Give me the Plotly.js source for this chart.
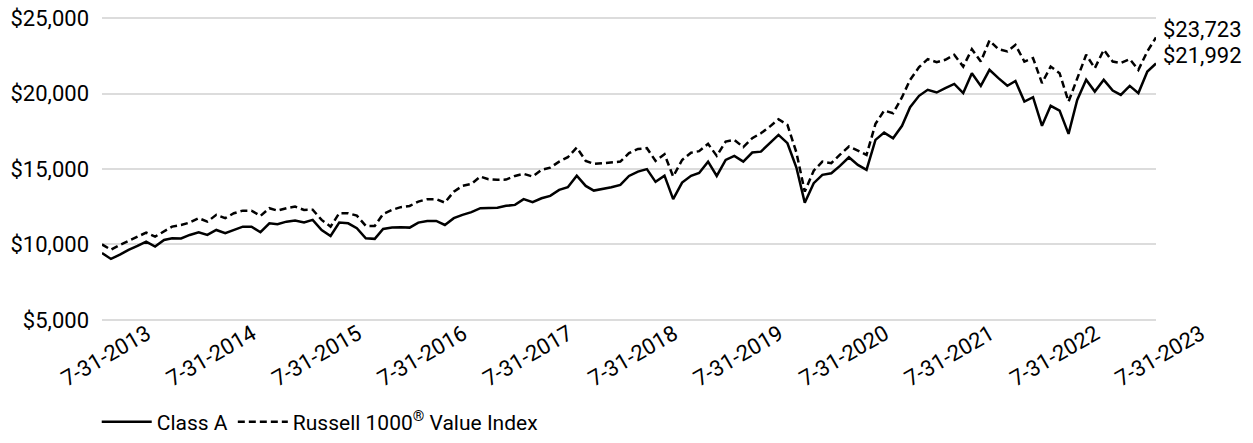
<!DOCTYPE html>
<html>
<head>
<meta charset="utf-8">
<script src="https://cdn.plot.ly/plotly-3.0.1.min.js"></script>
<style>
  html, body { margin: 0; padding: 0; background: #fff; }
  #chart { width: 1253px; height: 443px; }
</style>
</head>
<body>
<div id="chart"></div>
<script>
// Month-end observation dates (monthly, 7-31-2013 to 7-31-2023)
const dates = [
  "2013-07","2013-08","2013-09","2013-10","2013-11","2013-12",
  "2014-01","2014-02","2014-03","2014-04","2014-05","2014-06","2014-07","2014-08","2014-09","2014-10","2014-11","2014-12",
  "2015-01","2015-02","2015-03","2015-04","2015-05","2015-06","2015-07","2015-08","2015-09","2015-10","2015-11","2015-12",
  "2016-01","2016-02","2016-03","2016-04","2016-05","2016-06","2016-07","2016-08","2016-09","2016-10","2016-11","2016-12",
  "2017-01","2017-02","2017-03","2017-04","2017-05","2017-06","2017-07","2017-08","2017-09","2017-10","2017-11","2017-12",
  "2018-01","2018-02","2018-03","2018-04","2018-05","2018-06","2018-07","2018-08","2018-09","2018-10","2018-11","2018-12",
  "2019-01","2019-02","2019-03","2019-04","2019-05","2019-06","2019-07","2019-08","2019-09","2019-10","2019-11","2019-12",
  "2020-01","2020-02","2020-03","2020-04","2020-05","2020-06","2020-07","2020-08","2020-09","2020-10","2020-11","2020-12",
  "2021-01","2021-02","2021-03","2021-04","2021-05","2021-06","2021-07","2021-08","2021-09","2021-10","2021-11","2021-12",
  "2022-01","2022-02","2022-03","2022-04","2022-05","2022-06","2022-07","2022-08","2022-09","2022-10","2022-11","2022-12",
  "2023-01","2023-02","2023-03","2023-04","2023-05","2023-06","2023-07"
];

// Class A (growth of $10,000, after sales charge)
const classA = [
  9425, 9040, 9320, 9640, 9900, 10190, 9860, 10300, 10410, 10400, 10630, 10810,
  10630, 10960, 10740, 10960, 11180, 11180, 10810, 11400, 11340, 11510, 11580, 11450,
  11625, 10960, 10560, 11450, 11400, 11075, 10410, 10370, 11030, 11115, 11140, 11115,
  11450, 11560, 11560, 11290, 11740, 11960, 12140, 12400, 12400, 12440, 12560, 12620,
  13000, 12800, 13060, 13220, 13615, 13790, 14560, 13880, 13570, 13680, 13790, 13950,
  14540, 14830, 14990, 14150, 14560, 13000, 14100, 14550, 14740, 15490, 14540, 15600,
  15870, 15490, 16090, 16150, 16710, 17260, 16710, 15100, 12770, 14060, 14610, 14720,
  15210, 15780, 15270, 14940, 16930, 17410, 17040, 17860, 19100, 19850, 20250, 20070,
  20360, 20640, 20030, 21350, 20510, 21570, 21020, 20520, 20830, 19470, 19760, 17860,
  19190, 18870, 17330, 19580, 20910, 20130, 20910, 20200, 19910, 20510, 20030, 21460,
  21992
];

// Russell 1000 Value Index
const russell = [
  10000, 9650, 9970, 10230, 10500, 10780, 10520, 10850, 11180, 11290, 11450, 11740,
  11510, 11960, 11740, 12070, 12240, 12240, 11890, 12400, 12240, 12400, 12510, 12290,
  12300, 11625, 11180, 12070, 12070, 11910, 11230, 11230, 12020, 12290, 12470, 12550,
  12840, 13000, 13000, 12770, 13500, 13880, 14010, 14500, 14320, 14280, 14300, 14540,
  14680, 14500, 14940, 15090, 15490, 15780, 16420, 15540, 15340, 15385, 15425, 15490,
  16050, 16330, 16380, 15540, 15980, 14500, 15600, 16080, 16180, 16665, 15870, 16820,
  16930, 16450, 17040, 17370, 17810, 18300, 17925, 16100, 13500, 14890, 15490, 15385,
  15950, 16490, 16220, 15935, 17990, 18870, 18700, 19760, 20910, 21750, 22280, 22080,
  22235, 22570, 21790, 22940, 22120, 23515, 22940, 22790, 23230, 22120, 22350, 20690,
  21790, 21350, 19470, 21020, 22570, 21680, 22900, 22120, 22020, 22280, 21570, 22790,
  23723
];

const seriesNames = ["Class A", "Russell 1000<sup>®</sup> Value Index"];
const xTickVals = ["2013-07","2014-07","2015-07","2016-07","2017-07","2018-07","2019-07","2020-07","2021-07","2022-07","2023-07"];
const xTickText = ["7-31-2013","7-31-2014","7-31-2015","7-31-2016","7-31-2017","7-31-2018","7-31-2019","7-31-2020","7-31-2021","7-31-2022","7-31-2023"];
const yTickVals = [5000, 10000, 15000, 20000, 25000];
const yTickText = ["$5,000", "$10,000", "$15,000", "$20,000", "$25,000"];
const endLabels = ["$21,992", "$23,723"];

const FONT = "Roboto, 'Liberation Sans', sans-serif";

const traces = [
  {
    x: dates, y: classA, name: seriesNames[0], type: "scatter", mode: "lines",
    line: { color: "#000", width: 2.5 }, hoverinfo: "skip"
  },
  {
    x: dates, y: russell, name: seriesNames[1], type: "scatter", mode: "lines",
    line: { color: "#000", width: 2.5, dash: "7px,4px" }, hoverinfo: "skip"
  }
];

const last = dates.length - 1;
const layout = {
  width: 1253, height: 443,
  margin: { l: 102, r: 97, t: 16, b: 121, pad: 0, autoexpand: false },
  paper_bgcolor: "#fff", plot_bgcolor: "#fff",
  font: { family: FONT, color: "#000", size: 21 },
  showlegend: true,
  legend: {
    orientation: "h", x: -0.005, xanchor: "left", y: -0.26, yanchor: "top",
    font: { family: FONT, size: 21, color: "#000" }, itemwidth: 50,
    bgcolor: "rgba(0,0,0,0)", traceorder: "normal"
  },
  xaxis: {
    type: "date", range: ["2013-07", "2023-07"],
    tickmode: "array", tickvals: xTickVals, ticktext: xTickText,
    tickangle: -30, ticklabelshift: 45, ticklabelstandoff: -6,
    showgrid: false, zeroline: false, showline: false, ticks: "",
    tickfont: { family: FONT, size: 22, color: "#000" }
  },
  yaxis: {
    range: [4860, 25140], tickmode: "array", tickvals: yTickVals, ticktext: yTickText,
    showgrid: true, gridcolor: "#dcdcdc", gridwidth: 2, zeroline: false, showline: false,
    ticks: "", ticklabelstandoff: 12,
    tickfont: { family: FONT, size: 22, color: "#000" }
  },
  annotations: [
    { x: dates[last], y: russell[last], text: endLabels[1], xref: "x", yref: "y",
      showarrow: false, xanchor: "left", yanchor: "middle", xshift: 5, yshift: 8,
      font: { family: FONT, size: 22, color: "#000" } },
    { x: dates[last], y: classA[last], text: endLabels[0], xref: "x", yref: "y",
      showarrow: false, xanchor: "left", yanchor: "middle", xshift: 5, yshift: 8,
      font: { family: FONT, size: 22, color: "#000" } }
  ]
};

Plotly.newPlot("chart", traces, layout, { staticPlot: true, displayModeBar: false });
</script>
</body>
</html>
